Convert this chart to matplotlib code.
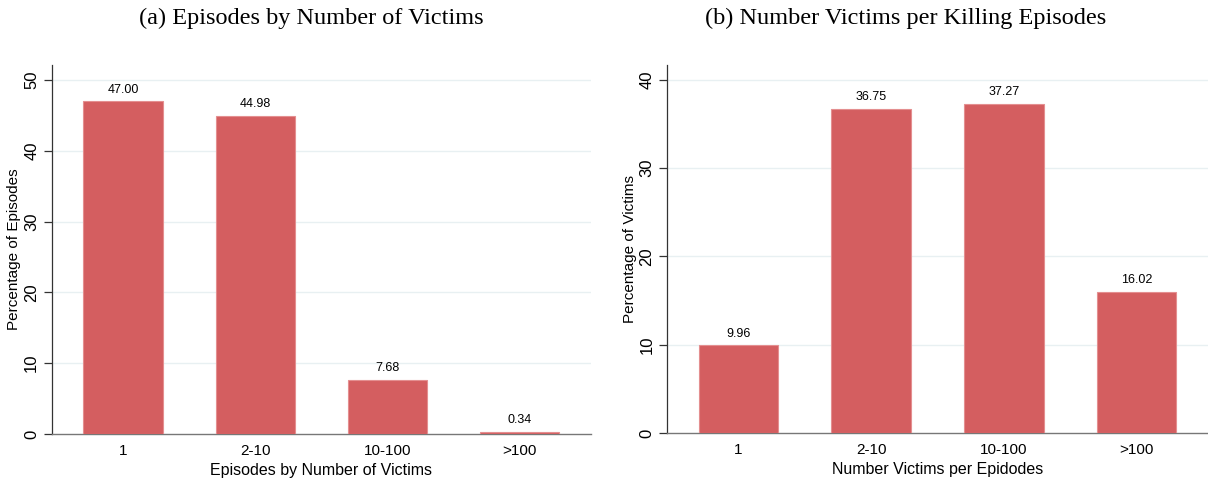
import matplotlib
matplotlib.use("Agg")
import matplotlib.pyplot as plt

# Victim-count bins shared by both panels
categories = ["1", "2-10", "10-100", ">100"]

# (a) share of killing episodes in each bin
episodes_pct = [47.00, 44.98, 7.68, 0.34]
# (b) share of victims accounted for by each bin
victims_pct = [9.96, 36.75, 37.27, 16.02]

yticks_a = [0, 10, 20, 30, 40, 50]
yticks_b = [0, 10, 20, 30, 40]

BAR = "#d45e60"
EDGE = "#e48f90"
GRID = "#e8f0f2"
SANS = "Liberation Sans"
SERIF = "Liberation Serif"

fig = plt.figure(figsize=(12.08, 4.82), dpi=100)
ax_a = fig.add_axes([51.7 / 1208, 48 / 482, 539 / 1208, 369 / 482])
ax_b = fig.add_axes([667 / 1208, 49 / 482, 541 / 1208, 368 / 482])


def draw_panel(ax, values, yticks, ytop, ylabel, xlabel, title, title_x):
    x = list(range(len(categories)))
    ax.bar(x, values, width=0.6, color=BAR, edgecolor=EDGE, linewidth=0.8, zorder=3)
    for xi, v in zip(x, values):
        ax.annotate(f"{v:.2f}", (xi, v), xytext=(0, 4), textcoords="offset points",
                    ha="center", va="bottom", fontsize=9, family=SANS, zorder=4)
    ax.set_xlim(-0.54, len(categories) - 1 + 0.54)
    ax.set_ylim(0, ytop)
    ax.set_xticks(x)
    ax.set_xticklabels(categories, family=SANS, fontsize=11)
    ax.tick_params(axis="x", length=0, pad=7)
    ax.set_yticks(yticks)
    ax.set_yticklabels([str(t) for t in yticks], family=SANS, fontsize=12,
                       rotation=90, va="center")
    ax.tick_params(axis="y", length=6, width=0.9, color="#333333", pad=3)
    for t in yticks[1:]:
        ax.axhline(t, color=GRID, linewidth=1.0, zorder=1)
    for s in ("top", "right"):
        ax.spines[s].set_visible(False)
    ax.spines["left"].set_color("#333333")
    ax.spines["left"].set_linewidth(0.9)
    ax.spines["bottom"].set_color("#777777")
    ax.spines["bottom"].set_linewidth(1.0)
    ax.set_ylabel(ylabel, family=SANS, fontsize=11, labelpad=2)
    ax.set_xlabel(xlabel, family=SANS, fontsize=11.5, labelpad=4)
    fig.text(title_x, 1 - 18 / 482, title, ha="center", va="center",
             family=SERIF, fontsize=17.5)


draw_panel(ax_a, episodes_pct, yticks_a, 50 + 15 / 7.07,
           "Percentage of Episodes", "Episodes by Number of Victims",
           "(a) Episodes by Number of Victims", 311 / 1208)
draw_panel(ax_b, victims_pct, yticks_b, 40 + 15 / 8.85,
           "Percentage of Victims", "Number Victims per Epidodes",
           "(b) Number Victims per Killing Episodes", 906 / 1208)

fig.savefig("out.png", dpi=100)
